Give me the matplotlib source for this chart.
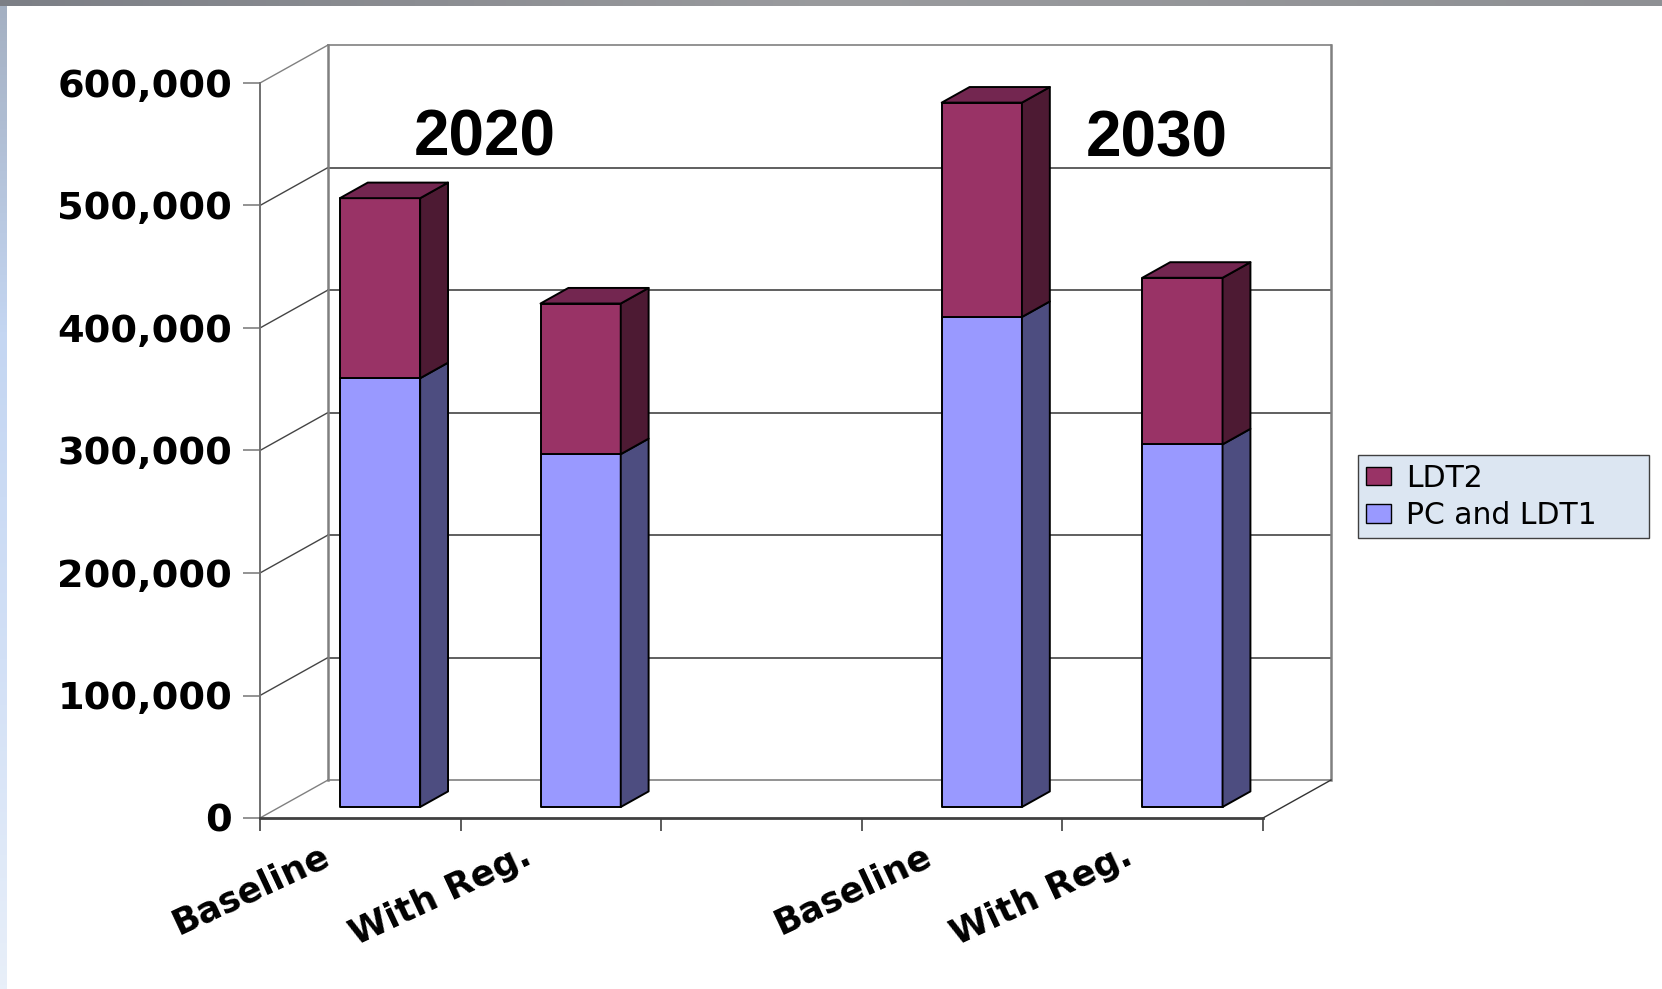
import numpy as np
import matplotlib.pyplot as plt
import matplotlib.patches as mpatches
from matplotlib.patches import Polygon, Rectangle
from matplotlib.colors import LinearSegmentedColormap

# values
categories = ['Baseline', 'With Reg.', 'Baseline', 'With Reg.']
slots = [0, 1, 3, 4]            # slot 2 is the empty gap between the years
pc_ldt1 = [350000, 288000, 400000, 296000]
ldt2 = [147000, 123000, 175000, 136000]
years = ['2020', '2030']
yticks = np.arange(0, 600001, 100000)

# front, side, top colours
pc_cols = ('#9999ff', '#4d4d80', '#7373bf')
ldt2_cols = ('#993366', '#4d1a33', '#732650')

# fake 3D: depth offset in data units
DX, DY = 0.339, 31000
F0, F1 = 0.29, 0.70
W = 0.40


def proj(x, y, d):
    return (x + d * DX, y + d * DY)


def draw_box(ax, x0, y0, y1, cols, top):
    x1 = x0 + W
    front = [proj(x0, y0, F0), proj(x1, y0, F0), proj(x1, y1, F0), proj(x0, y1, F0)]
    side = [proj(x1, y0, F0), proj(x1, y0, F1), proj(x1, y1, F1), proj(x1, y1, F0)]
    faces = [(front, cols[0]), (side, cols[1])]
    if top:
        faces.append(([proj(x0, y1, F0), proj(x1, y1, F0), proj(x1, y1, F1), proj(x0, y1, F1)], cols[2]))
    for pts, c in faces:
        ax.add_patch(Polygon(pts, closed=True, facecolor=c, edgecolor='black',
                             lw=1.4, joinstyle='round', clip_on=False, zorder=5))


fig = plt.figure(figsize=(16.62, 9.89), dpi=100)
fig.patch.set_facecolor('white')

# window frame strips (top grey, left blue-ish)
top_ax = fig.add_axes([0, 1 - 6 / 989, 1, 6 / 989])
top_ax.imshow(np.linspace(0, 1, 256)[None, :], aspect='auto',
              cmap=LinearSegmentedColormap.from_list('t', ['#7c7f86', '#9a9b9e', '#8e9094']))
top_ax.axis('off')
left_ax = fig.add_axes([0, 0, 7 / 1662, 1 - 6 / 989])
left_ax.imshow(np.linspace(0, 1, 256)[:, None], aspect='auto',
               cmap=LinearSegmentedColormap.from_list('l', ['#a4b0c2', '#c4d6f2', '#d2e0f6', '#e8eff9']))
left_ax.axis('off')

ax = fig.add_axes([260 / 1662, 1 - 818 / 989, 1003 / 1662, 735 / 989])
ax.set_xlim(0, 5)
ax.set_ylim(0, 600000)
ax.patch.set_alpha(0)

# walls and gridlines
grid_c = '#444444'
for v in yticks:
    c = '#808080' if v in (0, 600000) else grid_c
    a, b = proj(0, v, 1), proj(5, v, 1)
    ax.plot([a[0], b[0]], [a[1], b[1]], color=c, lw=1.2, clip_on=False, zorder=1)
    a, b = proj(0, v, 0), proj(0, v, 1)
    ax.plot([a[0], b[0]], [a[1], b[1]], color=c, lw=1.0, clip_on=False, zorder=1)
for x in (0, 5):
    a, b = proj(x, 0, 1), proj(x, 600000, 1)
    ax.plot([a[0], b[0]], [a[1], b[1]], color='#808080', lw=1.8, clip_on=False, zorder=1)
a, b = proj(5, 0, 0), proj(5, 0, 1)
ax.plot([a[0], b[0]], [a[1], b[1]], color='#333333', lw=1.0, clip_on=False, zorder=1)

# stacked bars
for s, p, l in zip(slots, pc_ldt1, ldt2):
    x0 = s + 0.5 - W / 2
    draw_box(ax, x0, 0, p, pc_cols, False)
    draw_box(ax, x0, p, p + l, ldt2_cols, True)

# axes styling
for side in ('top', 'right'):
    ax.spines[side].set_visible(False)
ax.spines['left'].set_color('#707070')
ax.spines['left'].set_linewidth(1.4)
ax.spines['bottom'].set_color('#404040')
ax.spines['bottom'].set_linewidth(2.0)

ax.set_yticks(yticks)
ax.set_yticklabels(['{:,}'.format(v) for v in yticks])
ax.tick_params(axis='y', direction='out', length=12, width=1.2, color='#808080', pad=8)
ax.set_xticks(np.arange(0, 6))
ax.set_xticklabels([])
ax.tick_params(axis='x', direction='out', length=9.5, width=1.2, color='#404040')
for t in ax.get_yticklabels():
    t.set_fontfamily('DejaVu Sans')
    t.set_fontweight('bold')
    t.set_fontsize(27.5)

for s, name in zip(slots, categories):
    ax.annotate(name, xy=(s + 0.5, 0), xycoords='data', xytext=(-32, -36),
                textcoords='offset pixels', rotation=25, rotation_mode='anchor',
                ha='right', va='center', fontsize=25.5, fontweight='bold',
                family='DejaVu Sans', annotation_clip=False)

# year headings
ax.text(1.12, 555000, years[0], ha='center', va='center', fontsize=46,
        fontweight='bold', family='Liberation Sans', zorder=6)
ax.text(4.47, 554000, years[1], ha='center', va='center', fontsize=46,
        fontweight='bold', family='Liberation Sans', zorder=6)

# legend box drawn separately so it can match the wide original frame
fig.add_artist(Rectangle((1358 / 1662, 1 - 538 / 989), 291 / 1662, 83 / 989,
                         transform=fig.transFigure, facecolor='#dce6f2',
                         edgecolor='#404040', lw=1.0, zorder=2))
handles = [mpatches.Patch(facecolor=ldt2_cols[0], edgecolor='black', label='LDT2'),
           mpatches.Patch(facecolor=pc_cols[0], edgecolor='black', label='PC and LDT1')]
leg = fig.legend(handles=handles, loc='center left', bbox_to_anchor=(1366 / 1662, 1 - 497 / 989),
                 prop={'family': 'DejaVu Sans', 'size': 21.5}, frameon=False,
                 handlelength=0.85, handleheight=0.6, handletextpad=0.5, labelspacing=0.3,
                 borderpad=0, borderaxespad=0)
leg.set_zorder(3)

fig.savefig('out.png', dpi=100)
